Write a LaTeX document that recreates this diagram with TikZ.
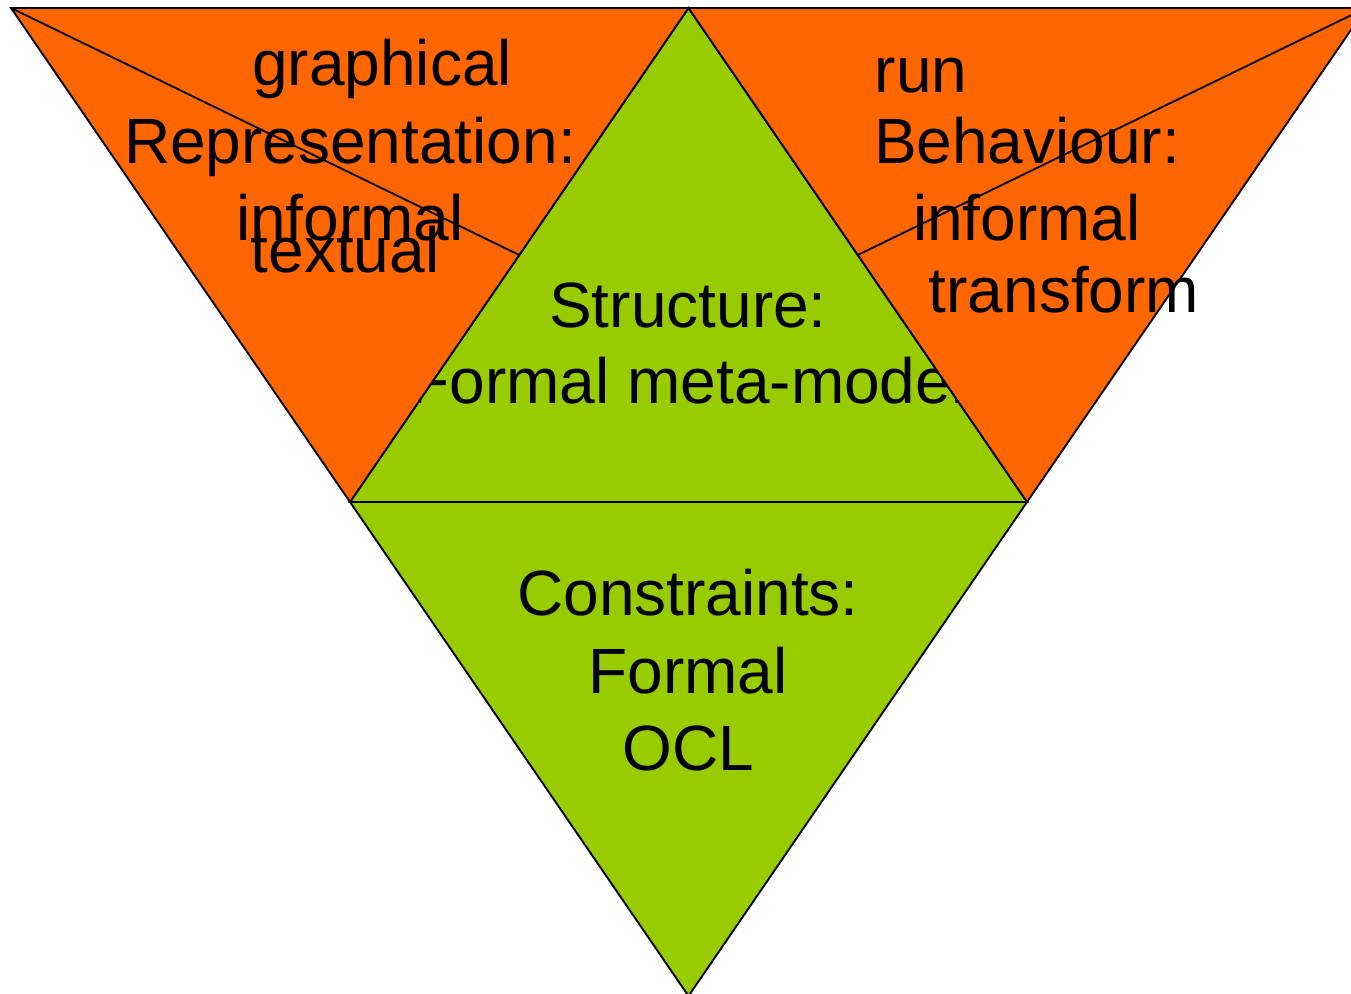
\documentclass[tikz,border=0pt]{standalone}
\usepackage{fontspec}
\setmainfont{Liberation Sans}
\usetikzlibrary{calc}
\definecolor{facetorange}{HTML}{FF6600}
\definecolor{facetgreen}{HTML}{99CC00}
\begin{document}
\begin{tikzpicture}[x=0.75pt,y=-0.75pt,
  facet/.style={draw=black,line width=1.4pt,line join=miter},
  divider/.style={draw=black,line width=1.4pt},
  lbl/.style={inner sep=0pt,anchor=base,font=\fontsize{48}{57.6}\selectfont}]
\useasboundingbox (0,0) rectangle (1351,993);
\clip (0,0) rectangle (1351,993);
% corner points of the facets
\coordinate (tl) at (11,8);
\coordinate (tr) at (1366,8);
\coordinate (tm) at (688.5,8);
\coordinate (ml) at (350,502);
\coordinate (mr) at (1027,502);
\coordinate (bt) at (688.5,996);
\coordinate (el) at ($(tm)!0.5!(ml)$);
\coordinate (er) at ($(tm)!0.5!(mr)$);
% upper green facet: structure
\path[facet,fill=facetgreen] (tm) -- (mr) -- (ml) -- cycle;
\node[lbl] (struct) at (688,327) {Structure:};
\node[lbl] (meta) at (688,403) {Formal meta-model};
% left orange facet: representation
\path[facet,fill=facetorange] (tl) -- (tm) -- (ml) -- cycle;
\draw[divider] (tl) -- (el);
\node[lbl] (graph) at (382,85) {graphical};
\node[lbl] (repr) at (350,163) {Representation:};
\node[lbl] (infl) at (350,240) {informal};
\node[lbl] (text) at (345,272) {textual};
% right orange facet: behaviour
\path[facet,fill=facetorange] (tm) -- (tr) -- (mr) -- cycle;
\draw[divider] (tr) -- (er);
\node[lbl] (run) at (921,92) {run};
\node[lbl] (behav) at (1027,163) {Behaviour:};
\node[lbl] (infr) at (1027,240) {informal};
\node[lbl] (trans) at (1064,312) {transform};
% lower green facet: constraints
\path[facet,fill=facetgreen] (ml) -- (mr) -- (bt) -- cycle;
\node[lbl] (cons) at (688,615) {Constraints:};
\node[lbl] (form) at (688,693) {Formal};
\node[lbl] (ocl) at (688,770) {OCL};
\end{tikzpicture}
\end{document}
